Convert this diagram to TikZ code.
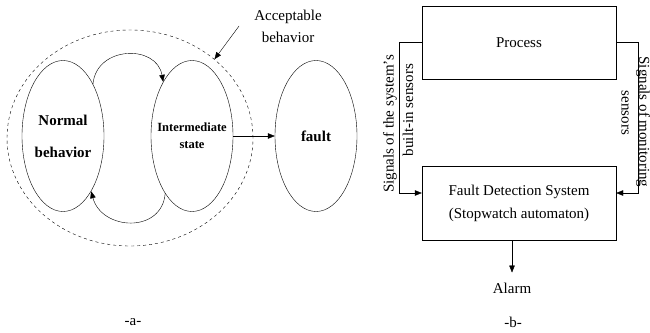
\documentclass[tikz,border=0pt]{standalone}
\usepackage{fontspec}
\setmainfont{Liberation Serif}
\usetikzlibrary{shapes.geometric,arrows.meta}
\tikzset{
  bubble/.style={draw, ellipse, minimum width=82pt, minimum height=151pt, inner sep=0pt},
  blk/.style={draw, rectangle, minimum width=194pt, minimum height=73pt, inner sep=0pt},
  txt/.style={font=\fontsize{15}{18}\selectfont, inner sep=0pt},
  flow/.style={draw, -{Triangle[length=7pt,width=5.5pt]}},
}
\begin{document}
\begin{tikzpicture}[x=1pt,y=1pt]
\useasboundingbox (0,0) rectangle (650,-332);

% -a- behaviour of the system
\node[draw, dashed, ellipse, minimum width=246pt, minimum height=216pt] (okzone) at (130,-138) {};
\node[bubble] (normal) at (63,-136) {};
\node[bubble] (inter) at (192,-136) {};
\node[bubble] (fault) at (316,-136) {};
\node[align=center, inner sep=0pt, font=\bfseries\fontsize{15}{32}\selectfont] (normallbl) at (normal) {Normal\\behavior};
\node[align=center, inner sep=0pt, font=\bfseries\fontsize{12.5}{17}\selectfont] (interlbl) at (inter) {Intermediate\\state};
\node[txt, font=\bfseries\fontsize{15}{18}\selectfont] (faultlbl) at (fault) {fault};

\path[flow] (normal.60) to[out=85, in=100, looseness=1.4] (inter.118);
\path[flow] (inter.245) to[out=-95, in=-75, looseness=1.4] (normal.297);
\path[flow] (inter) -- (fault);

\node[txt, align=center, font=\fontsize{15}{22}\selectfont] (acclbl) at (288,-26) {Acceptable\\behavior};
\path[flow] ([xshift=-15pt]acclbl.west) -- (okzone.43);
\node[txt] (capa) at (133,-322) {-a-};

% -b- detection loop
\node[blk, txt] (process) at (519,-42.5) {Process};
\node[blk, txt, align=center, minimum height=74pt, font=\fontsize{15}{23}\selectfont] (fds) at (519,-203) {Fault Detection System\\(Stopwatch automaton)};
\node[txt] (alarm) at (512,-288) {Alarm};

\path[flow] (process.west) -- ++(-23,0) |- ([yshift=10pt]fds.west);
\path[flow] (process.east) -- ++(22,0) |- ([yshift=10pt]fds.east);
\path[flow] (alarm.north |- fds.south) -- ([yshift=10pt]alarm.north);

\node[txt, rotate=90] (sysl1) at (390,-124) {Signals of the system's};
\node[txt, rotate=90] (sysl2) at (408,-110) {built-in sensors};
\node[txt, rotate=-90] (monl1) at (643,-122) {Signals of monitoring};
\node[txt, rotate=-90] (monl2) at (625,-113) {sensors};

\node[txt] (capb) at (513,-322) {-b-};
\end{tikzpicture}
\end{document}
